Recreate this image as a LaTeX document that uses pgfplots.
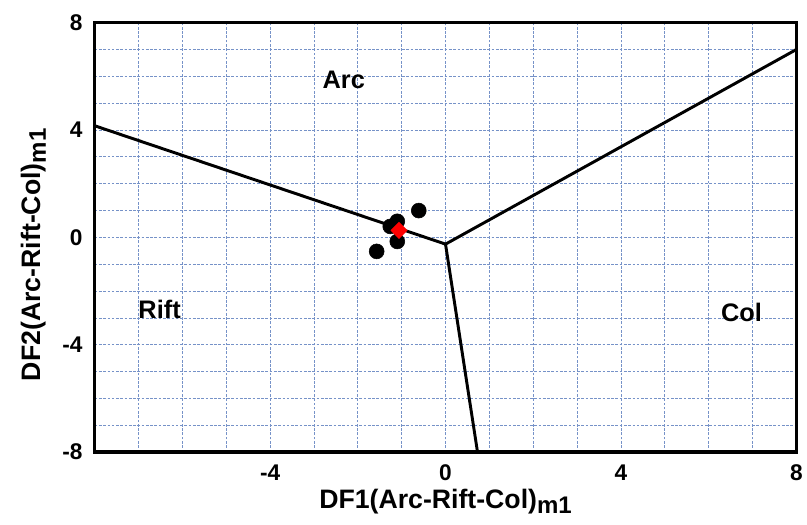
\documentclass[border=0pt]{standalone}
\usepackage{fontspec}
\setmainfont{Liberation Sans}
\usepackage{pgfplots}
\pgfplotsset{compat=1.18}
\definecolor{gridblue}{RGB}{118,146,200}

\begin{document}
\begin{tikzpicture}
\begin{axis}[
    scale only axis,
    width=526pt,
    height=322pt,
    xmin=-8, xmax=8,
    ymin=-8, ymax=8,
    xtick={-8,-4,0,4,8},
    xticklabels={,-4,0,4,8},
    ytick={-8,-4,0,4,8},
    minor xtick={-7,-6,...,7},
    minor ytick={-7,-6,...,7},
    grid=both,
    grid style={draw=gridblue, line width=0.6pt, dash pattern=on 2pt off 1.2pt},
    minor grid style={draw=gridblue, line width=0.6pt, dash pattern=on 2pt off 1.2pt},
    axis line style={draw=none},
    tick style={draw=none},
    ticklabel style={font=\fontsize{17}{19}\selectfont\bfseries},
    xticklabel style={anchor=north, inner sep=0pt},
    xticklabel shift=9pt,
    yticklabel style={anchor=east, inner sep=0pt, xshift=-9pt},
    /pgf/number format/assume math mode=true,
    xlabel={DF1(Arc-Rift-Col)\raisebox{-0.4ex}{\fontsize{18}{20}\selectfont m1}},
    ylabel={DF2(Arc-Rift-Col)\raisebox{-0.4ex}{\fontsize{18}{20}\selectfont m1}},
    label style={font=\fontsize{20}{22}\selectfont\bfseries},
    xlabel style={at={(rel axis cs:0.5,0)}, anchor=base, yshift=-42pt},
    ylabel style={at={(rel axis cs:0,0.5)}, anchor=center, yshift=46pt, xshift=-13pt},
    clip=false,
]
% discriminant boundaries
\addplot[black, line width=2.2pt] coordinates {(-8,4.16) (0,-0.25)};
\addplot[black, line width=2.2pt] coordinates {(0,-0.25) (8,7.0)};
\addplot[black, line width=2.2pt] coordinates {(0,-0.25) (0.73,-8)};
% samples
\addplot[only marks, mark=*, mark size=5.6pt, black] coordinates {
    (-0.61,1.0) (-1.57,-0.52) (-1.10,-0.15) (-1.10,0.6) (-1.26,0.41)
};
\addplot[only marks, mark=square*, mark size=4.3pt, red, mark options={rotate=45, draw=red, fill=red}] coordinates {(-1.06,0.26)};
% field labels
\node[font=\fontsize{19}{21}\selectfont\bfseries] at (axis cs:-2.32,5.87) {Arc};
\node[font=\fontsize{19}{21}\selectfont\bfseries] at (axis cs:-6.52,-2.67) {Rift};
\node[font=\fontsize{19}{21}\selectfont\bfseries] at (axis cs:6.75,-2.78) {Col};
\draw[black, line width=2.6pt] (rel axis cs:0,0) rectangle (rel axis cs:1,1);
\coordinate (ll) at (rel axis cs:0,0);
\coordinate (ur) at (rel axis cs:1,1);
\end{axis}
\pgfresetboundingbox
\path ([xshift=-71pt,yshift=-54pt]ll) rectangle ([xshift=8pt,yshift=17pt]ur);
\end{tikzpicture}
\end{document}
